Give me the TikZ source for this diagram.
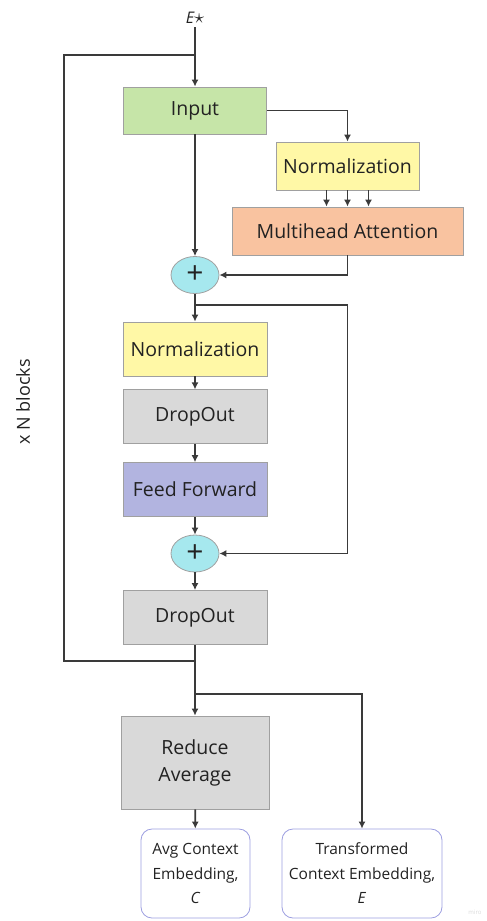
\documentclass[tikz,border=0pt]{standalone}
\usepackage{fontspec}
\setmainfont{Open Sans}
\usetikzlibrary{arrows.meta,positioning,shapes.geometric}

\definecolor{ink}{HTML}{3A3A3A}
\definecolor{txt}{HTML}{222222}
\definecolor{edge}{HTML}{A0A0A0}
\definecolor{inputgreen}{HTML}{C6E5A8}
\definecolor{normyellow}{HTML}{FFF8A6}
\definecolor{attnorange}{HTML}{F9C3A0}
\definecolor{dropgray}{HTML}{D9D9D9}
\definecolor{ffblue}{HTML}{B2B4E0}
\definecolor{pluscyan}{HTML}{A6E8EE}
\definecolor{outedge}{HTML}{9C9EE0}

\begin{document}
\begin{tikzpicture}[
    x=1pt, y=-1pt,
    font=\fontsize{19.5}{22}\selectfont, text=txt,
    box/.style={draw=edge, line width=0.8pt, inner sep=0pt, minimum width=144pt, minimum height=54pt, align=center},
    plus/.style={ellipse, draw=edge, line width=0.8pt, fill=pluscyan, inner sep=0pt, minimum width=48pt, minimum height=37pt, font=\fontsize{30}{30}\selectfont},
    outbox/.style={draw=outedge, line width=0.8pt, rounded corners=11pt, inner sep=0pt, minimum height=89pt, align=center, font=\fontsize{15.5}{24.5}\selectfont},
    line/.style={draw=ink, line width=1.6pt},
    arrow/.style={line, -{Latex[length=7pt, width=7pt]}}
]
\useasboundingbox (0,0) rectangle (487,921);

% encoder block
\node[font=\fontsize{16}{16}\selectfont\itshape] (estar) at (195,18) {E\raisebox{0.5pt}{\normalfont\fontsize{20}{20}\selectfont$\star$}};
\node[box, fill=inputgreen, minimum width=143pt, minimum height=47pt] (input) at (195,110.5) {Input};
\node[box, fill=normyellow, minimum width=143pt, minimum height=48pt] (norm1) at (347.5,166) {Normalization};
\node[box, fill=attnorange, minimum width=231pt, minimum height=48pt] (mha) at (347.5,231) {Multihead Attention};
\node[plus] (plus1) at (195,275) {+};
\node[box, fill=normyellow] (norm2) at (195,349) {Normalization};
\node[box, fill=dropgray, below=13pt of norm2] (drop1) {DropOut};
\node[box, fill=ffblue, below=18pt of drop1] (ff) {Feed Forward};
\node[plus] (plus2) at (195,553.5) {+};
\node[box, fill=dropgray] (drop2) at (195,617.5) {DropOut};

% repeat loop
\coordinate (top) at (195,55);
\coordinate (loopTL) at (64,55);
\coordinate (loopBL) at (64,661);
\coordinate (bottom) at (195,661);
\node[rotate=90, font=\fontsize{18}{18}\selectfont] (blocks) at (23,402) {x N blocks};

% outputs
\node[box, fill=dropgray, minimum width=148pt, minimum height=93pt, font=\fontsize{19.5}{27}\selectfont] (reduce) at (195,762.5) {Reduce\\Average};
\node[outbox, minimum width=109pt] (avg) at (195.5,873.5) {Avg Context\\Embedding,\\\textit{C}};
\node[outbox, minimum width=160pt] (trans) at (362,873.5) {Transformed\\Context Embedding,\\\textit{E}};
\node[font=\fontsize{6}{6}\selectfont, text=black!15] (miro) at (475,912) {miro};

\coordinate (res) at (195,305);
\coordinate (split) at (195,694);

\draw[arrow] (estar) -- (input);
\draw[line] (top) -- (loopTL) -- (loopBL) -- (bottom);
\draw[arrow] (input.east) -| (norm1.north);
\foreach \dx in {-21,0,21}
    \draw[arrow] ([xshift=\dx]norm1.south) -- ([xshift=\dx]mha.north);
\draw[arrow] (mha.south) |- (plus1.east);
\draw[arrow] (input) -- (plus1);
\draw[arrow] (plus1) -- (norm2);
\draw[arrow] (res) -- (res -| mha) |- (plus2.east);
\draw[arrow] (norm2) -- (drop1);
\draw[arrow] (drop1) -- (ff);
\draw[arrow] (ff) -- (plus2);
\draw[arrow] (plus2) -- (drop2);
\draw[arrow] (drop2) -- (reduce);
\draw[arrow] (split) -| (trans.north);
\draw[arrow] (reduce) -- (avg);
\end{tikzpicture}
\end{document}
